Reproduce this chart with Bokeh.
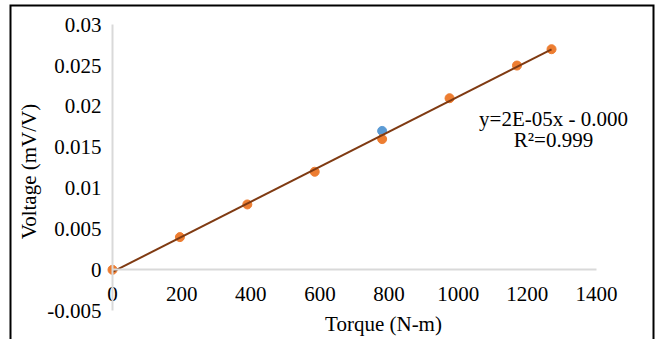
import math
import numpy as np
from bokeh.plotting import figure
from bokeh.models import Range1d, FixedTicker, Label
from bokeh.embed import file_html
from bokeh.resources import INLINE

# ---- data ----
torque = [0, 195, 390, 585, 780, 975, 1170, 1270]
voltage = [0.0, 0.004, 0.008, 0.012, 0.016, 0.021, 0.025, 0.027]
torque_b = [780]
voltage_b = [0.017]

x_ticks = [0, 200, 400, 600, 800, 1000, 1200, 1400]
y_ticks = [-0.005, 0.0, 0.005, 0.01, 0.015, 0.02, 0.025, 0.03]
y_tick_labels = ["-0.005", "0", "0.005", "0.01", "0.015", "0.02", "0.025", "0.03"]

eq_text = "y=2E-05x - 0.000"
r2_text = "R\u00b2=0.999"
x_title = "Torque (N-m)"
y_title = "Voltage (mV/V)"

# ---- layout constants ----
W, H = 657, 339
FL, FR, FT, FB = 9, 654, 4, 339
X0PX, XS = 112.0, 0.3457         # px of x=0, px per unit
Y0PX, YS = 269.3, 8170.0         # px of y=0, px per unit
xmin = (FL - X0PX) / XS
xmax = (FR - X0PX) / XS
ymax = (Y0PX - FT) / YS
ymin = (Y0PX - FB) / YS


def dx(px):
    return (px - X0PX) / XS


def dy(py):
    return (Y0PX - py) / YS


FONT = "Liberation Serif"
FS = "21px"

p = figure(width=W, height=H, x_range=Range1d(xmin, xmax), y_range=Range1d(ymin, ymax),
           output_backend="svg", toolbar_location=None,
           min_border_left=FL, min_border_right=W - FR, min_border_top=FT, min_border_bottom=H - FB)
p.xgrid.visible = False
p.ygrid.visible = False
p.outline_line_color = None
p.background_fill_color = "white"
p.border_fill_color = "white"

for ax in (p.xaxis[0], p.yaxis[0]):
    ax.fixed_location = 0
    ax.axis_line_color = "#d9d9d9"
    ax.axis_line_width = 2
    ax.major_tick_line_color = None
    ax.minor_tick_line_color = None
    ax.major_tick_out = 0
    ax.major_tick_in = 0
    ax.major_label_text_font = FONT
    ax.major_label_text_font_size = FS
    ax.major_label_text_color = "black"

xa = p.xaxis[0]
xa.bounds = (x_ticks[0], x_ticks[-1])
xa.ticker = FixedTicker(ticks=x_ticks)
xa.major_label_standoff = 17

ya = p.yaxis[0]
ya.bounds = (y_ticks[0], y_ticks[-1])
ya.ticker = FixedTicker(ticks=y_ticks)
ya.major_label_overrides = {t: l for t, l in zip(y_ticks, y_tick_labels)}
ya.major_label_standoff = 11

# outer frame border (three sides)
p.line([xmin, xmin, xmax, xmax], [ymin, ymax, ymax, ymin], line_color="black", line_width=4)

# points
p.scatter(torque_b, voltage_b, size=9, fill_color="#5B9BD5", line_color="#5B9BD5")
p.scatter(torque, voltage, size=9, fill_color="#ED7D31", line_color="#ED7D31")

# linear trendline
m, b = np.polyfit(torque, voltage, 1)
tx = [torque[0], torque[-1]]
p.line(tx, [m * t + b for t in tx], line_color="#7F3A12", line_width=2)

common = dict(text_align="center", text_baseline="middle", text_font=FONT,
              text_font_size=FS, text_color="black")
p.add_layout(Label(x=dx(553), y=dy(118), text=eq_text, **common))
p.add_layout(Label(x=dx(553), y=dy(139), text=r2_text, **common))
p.add_layout(Label(x=dx(383), y=dy(323), text=x_title, **common))
p.add_layout(Label(x=dx(28), y=dy(171), text=y_title, angle=math.pi / 2, **common))

open("out.html", "w").write(file_html(p, INLINE))
